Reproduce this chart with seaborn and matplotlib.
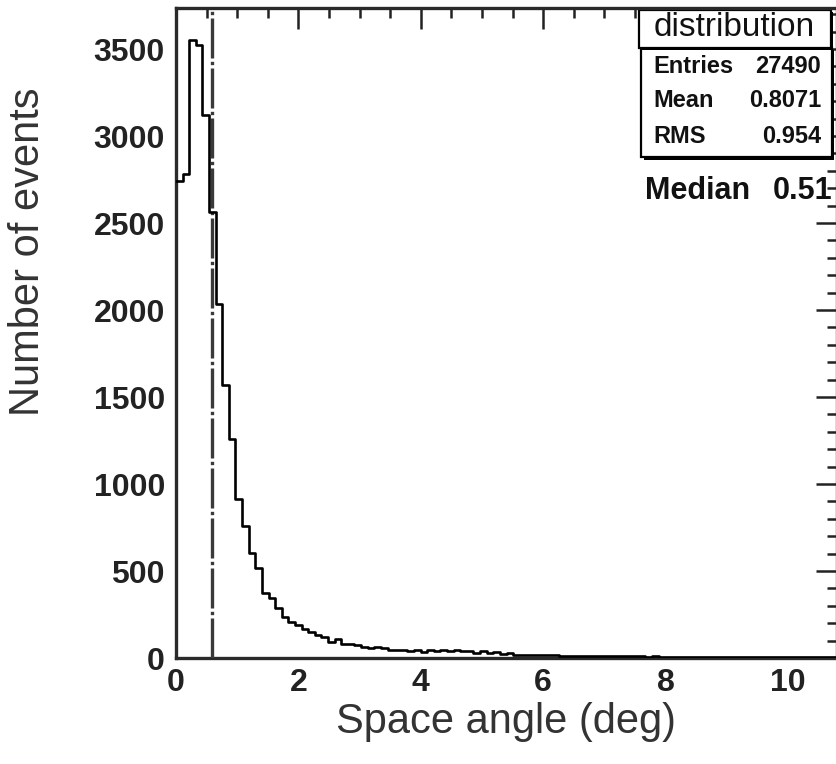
import numpy as np
import pandas as pd
import matplotlib
matplotlib.use("Agg")
import matplotlib.pyplot as plt
from matplotlib.ticker import MultipleLocator
from matplotlib.patches import Rectangle
import seaborn as sns

# ---------------- data ----------------
x_min, x_max, n_bins = 0.0, 10.8, 100
counts = [2740, 2780, 3550, 3525, 3120, 2565, 2035, 1570, 1257, 914,
          760, 605, 520, 375, 343, 290, 235, 205, 190, 165,
          151, 132, 123, 94, 107, 82, 78, 76, 62, 60,
          63, 58, 47, 46, 48, 40, 44, 36, 46, 38,
          44, 42, 45, 40, 43, 30, 38, 28, 33, 22,
          30, 20, 18, 19, 16, 17, 15, 16, 14, 13,
          14, 12, 13, 11, 12, 10, 11, 10, 9, 10,
          9, 8, 9, 7, 8, 7, 8, 6, 7, 6,
          7, 6, 5, 6, 5, 6, 5, 4, 5, 4,
          5, 4, 4, 5, 3, 4, 4, 3, 4, 3]
median_value = 0.59
x_ticks = [0, 2, 4, 6, 8, 10]
y_ticks = [0, 500, 1000, 1500, 2000, 2500, 3000, 3500]
stats_title = "distribution"
stats_rows = [("Entries", "27490"), ("Mean", "0.8071"), ("RMS", "0.954")]
median_label = ("Median", "0.51")
x_title = "Space angle (deg)"
y_title = "Number of events"

edges = np.linspace(x_min, x_max, n_bins + 1)
centers = 0.5 * (edges[:-1] + edges[1:])
df = pd.DataFrame({"angle": centers, "n": counts})

# ---------------- figure ----------------
sns.set_style("white")
plt.rcParams["font.family"] = ["Liberation Sans", "DejaVu Sans"]

W, H = 836, 764
fig = plt.figure(figsize=(W / 100, H / 100), dpi=100)
ax_l, ax_r, ax_t, ax_b = 176, 837, 8, 658
ax = fig.add_axes([ax_l / W, 1 - ax_b / H, (ax_r - ax_l) / W, (ax_b - ax_t) / H])

sns.histplot(data=df, x="angle", weights="n", bins=n_bins, binrange=(x_min, x_max),
             element="step", fill=False, color="black", linewidth=1.9, ax=ax, zorder=3)

ax.set_xlim(x_min, x_max)
ax.set_ylim(0, 3736)

ax.axvline(median_value, color="#3a3a3a", linewidth=2.4,
           dashes=(12, 1.0, 1.0, 1.0), zorder=2.8)

# axes styling (ROOT look)
for s in ax.spines.values():
    s.set_linewidth(2.4)
    s.set_color("#2a2a2a")
ax.set_xticks(x_ticks)
ax.set_yticks(y_ticks)
ax.xaxis.set_minor_locator(MultipleLocator(0.5))
ax.yaxis.set_minor_locator(MultipleLocator(100))
ax.tick_params(which="both", direction="in", top=True, right=True,
               width=1.8, color="#222222")
ax.tick_params(which="major", length=15)
ax.tick_params(which="minor", length=7.5)
ax.tick_params(axis="y", which="major", pad=8)
ax.tick_params(axis="x", which="major", pad=7)
for lab in ax.get_xticklabels() + ax.get_yticklabels():
    lab.set_fontsize(23)
    lab.set_fontweight("bold")
    lab.set_color("#222222")
ax.set_xlabel("")
ax.set_ylabel("")

fig.text(506 / W, 1 - 722 / H, x_title, ha="center", va="center",
         fontsize=30, color="#333333")
fig.text(28 / W, 1 - 252 / H, y_title, ha="center", va="center",
         rotation=90, fontsize=30, color="#333333")

# ---------------- stats box ----------------
def fx(px):
    return px / W


def fy(py):
    return 1 - py / H


tr = fig.transFigure
ax.add_patch(Rectangle((fx(644), fy(160)), fx(834) - fx(644), fy(50) - fy(160),
                       transform=tr, facecolor="black", edgecolor="none",
                       clip_on=False, zorder=2.0))
ax.add_patch(Rectangle((fx(641), fy(157)), fx(832) - fx(641), fy(48) - fy(157),
                       transform=tr, facecolor="white", edgecolor="black",
                       linewidth=1.6, clip_on=False, zorder=2.05))
ax.add_patch(Rectangle((fx(642), fy(50)), fx(833) - fx(642), fy(12) - fy(50),
                       transform=tr, facecolor="black", edgecolor="none",
                       clip_on=False, zorder=2.1))
ax.add_patch(Rectangle((fx(639), fy(48)), fx(831) - fx(639), fy(10) - fy(48),
                       transform=tr, facecolor="white", edgecolor="black",
                       linewidth=1.6, clip_on=False, zorder=2.15))
ax.text(fx(734), fy(27), stats_title, transform=tr, ha="center", va="center",
        fontsize=24, color="#111111", zorder=2.2)
row_y = [73, 107, 143]
for (k, v), yb in zip(stats_rows, row_y):
    ax.text(fx(653), fy(yb), k, transform=tr, ha="left", va="baseline",
            fontsize=17, fontweight="bold", color="#111111", zorder=2.2)
    ax.text(fx(821), fy(yb), v, transform=tr, ha="right", va="baseline",
            fontsize=17, fontweight="bold", color="#111111", zorder=2.2)

ax.text(fx(645), fy(199), median_label[0], transform=tr, ha="left", va="baseline",
        fontsize=22, fontweight="bold", color="#111111", zorder=2.2)
ax.text(fx(773), fy(199), median_label[1], transform=tr, ha="left", va="baseline",
        fontsize=22, fontweight="bold", color="#111111", zorder=2.2)

fig.savefig("out.png", dpi=100)
